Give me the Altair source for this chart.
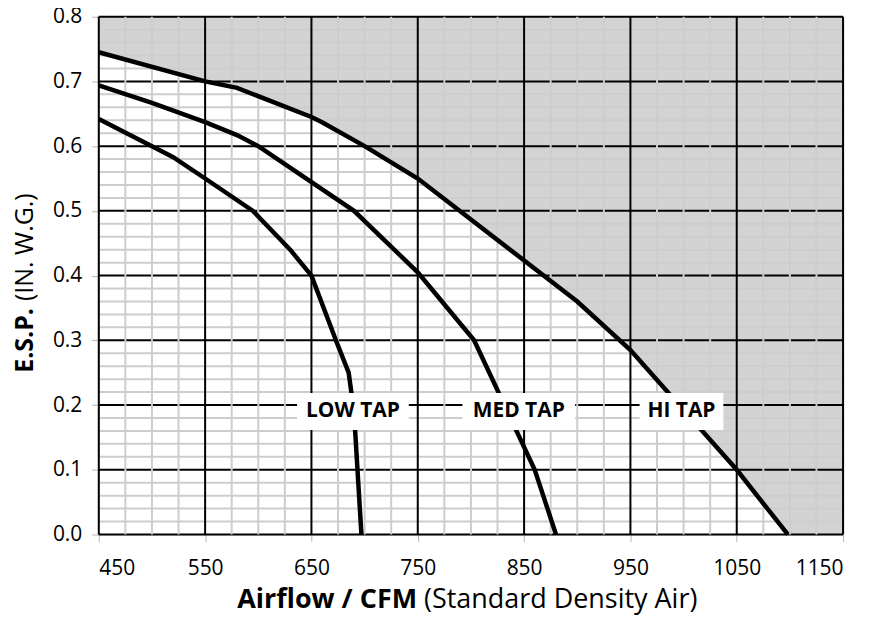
import altair as alt
import pandas as pd

# ---- data ----
low_cfm = [450, 500, 520, 550, 595, 630, 650, 673, 685, 690, 697]
low_esp = [0.642, 0.600, 0.583, 0.550, 0.500, 0.440, 0.400, 0.300, 0.250, 0.190, 0.0]

med_cfm = [450, 500, 550, 580, 600, 690, 750, 803, 860, 880]
med_esp = [0.694, 0.667, 0.637, 0.617, 0.600, 0.500, 0.405, 0.300, 0.100, 0.0]

hi_cfm = [450, 550, 580, 650, 660, 700, 750, 900, 950, 1050, 1098]
hi_esp = [0.745, 0.700, 0.690, 0.645, 0.637, 0.600, 0.550, 0.360, 0.285, 0.100, 0.0]

label_text = ["LOW TAP", "MED TAP", "HI TAP"]
label_cfm = [689, 845, 998]
label_esp = [0.19, 0.19, 0.19]

x_ticks = [450, 550, 650, 750, 850, 950, 1050, 1150]
y_ticks = [0.0, 0.1, 0.2, 0.3, 0.4, 0.5, 0.6, 0.7, 0.8]
x_minor = [v for v in range(450, 1151, 25) if v not in x_ticks]
y_minor = [round(i * 0.02, 2) for i in range(41) if i % 5 != 0]

# ---- tables ----
curves = pd.concat([
    pd.DataFrame({"cfm": low_cfm, "esp": low_esp, "tap": "LOW"}),
    pd.DataFrame({"cfm": med_cfm, "esp": med_esp, "tap": "MED"}),
    pd.DataFrame({"cfm": hi_cfm, "esp": hi_esp, "tap": "HI"}),
], ignore_index=True)
fill_df = pd.DataFrame({"cfm": hi_cfm + [1150], "esp": hi_esp + [0.0]})
labels = pd.DataFrame({"text": label_text, "cfm": label_cfm, "esp": label_esp})

FONT = "Open Sans"
xscale = alt.Scale(domain=[450, 1150], nice=False, zero=False)
yscale = alt.Scale(domain=[0, 0.8], nice=False, zero=True)
xaxis = alt.Axis(values=x_ticks, title=None, grid=False, domain=False, format="d",
                 labelFont=FONT, labelFontSize=21, labelColor="black",
                 tickColor="#b5b5b5", tickSize=7, labelPadding=16)
yaxis = alt.Axis(values=y_ticks, title=None, grid=False, domain=False, format=".1f",
                 labelFont=FONT, labelFontSize=21, labelColor="black",
                 tickColor="#b5b5b5", tickSize=7, labelPadding=10)


def X(f):
    return alt.X(f, type="quantitative", scale=xscale, axis=xaxis)


def Y(f):
    return alt.Y(f, type="quantitative", scale=yscale, axis=yaxis)


area = alt.Chart(fill_df).transform_calculate(top="0.8").mark_area(
    color="#d3d3d3", opacity=1).encode(
    x=X("cfm"), y=Y("esp"), y2=alt.Y2("top:Q"))

hminor = alt.Chart(pd.DataFrame({"v": y_minor})).mark_rule(
    color="#cdcdcd", strokeWidth=2).encode(y=Y("v"))
hmajor = alt.Chart(pd.DataFrame({"v": y_ticks})).mark_rule(
    color="black", strokeWidth=2).encode(y=Y("v"))
vminor = alt.Chart(pd.DataFrame({"v": x_minor})).mark_rule(
    color="#cdcdcd", strokeWidth=2).encode(x=X("v"))
vmajor = alt.Chart(pd.DataFrame({"v": x_ticks})).mark_rule(
    color="black", strokeWidth=2).encode(x=X("v"))

lines = alt.Chart(curves).mark_line(color="black", strokeWidth=4.5).encode(
    x=X("cfm"), y=Y("esp"), detail="tap:N", order=alt.Order("cfm:Q"))

box_w = {"LOW TAP": 112, "MED TAP": 113, "HI TAP": 84}
boxes = []
for t in label_text:
    boxes.append(
        alt.Chart(labels).transform_filter(alt.datum.text == t)
        .mark_rect(color="white", width=box_w[t], height=37)
        .encode(x=X("cfm"), y=Y("esp"))
    )
texts = alt.Chart(labels).mark_text(
    font=FONT, fontSize=21, fontWeight="bold", color="black",
    align="center", baseline="middle").encode(x=X("cfm"), y=Y("esp"), text="text:N")

# axis titles (mixed bold / regular)
xt_bold = alt.Chart(pd.DataFrame({"t": ["Airflow / CFM"]})).mark_text(
    font=FONT, fontSize=27, fontWeight="bold", align="right", baseline="middle",
    color="black").encode(text="t:N", x=alt.value(319), y=alt.value(585))
xt_reg = alt.Chart(pd.DataFrame({"t": ["(Standard Density Air)"]})).mark_text(
    font=FONT, fontSize=27, align="left", baseline="middle",
    color="black").encode(text="t:N", x=alt.value(326), y=alt.value(585))
yt_bold = alt.Chart(pd.DataFrame({"t": ["E.S.P."]})).mark_text(
    font=FONT, fontSize=25, fontWeight="bold", align="right", baseline="middle",
    angle=270, color="black").encode(text="t:N", x=alt.value(-74), y=alt.value(292))
yt_reg = alt.Chart(pd.DataFrame({"t": ["(IN. W.G.)"]})).mark_text(
    font=FONT, fontSize=25, align="left", baseline="middle",
    angle=270, color="black").encode(text="t:N", x=alt.value(-74), y=alt.value(285))

chart = alt.layer(
    area, hminor, hmajor, vminor, vmajor, lines, *boxes, texts,
    xt_bold, xt_reg, yt_bold, yt_reg
).properties(
    width=746, height=519,
    autosize=alt.AutoSizeParams(type="none"),
    padding={"left": 91, "top": 8, "right": 30, "bottom": 80},
).configure_view(stroke=None).configure(background="white")

chart.save("out.html", embed_options={"renderer": "svg", "actions": False})
